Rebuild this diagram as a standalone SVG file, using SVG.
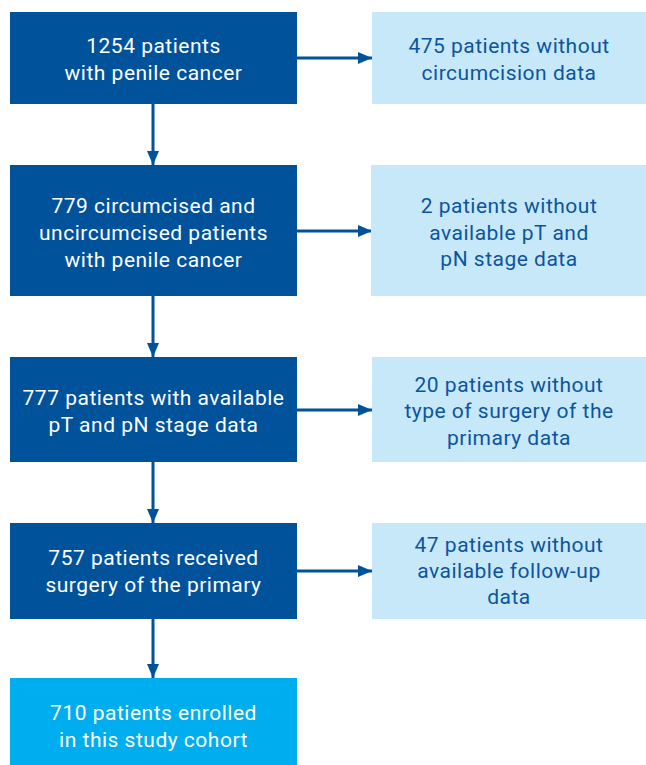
<svg xmlns="http://www.w3.org/2000/svg" width="646" height="765" viewBox="0 0 646 765">
<style>
.dark{fill:#00529B}
.light{fill:#C7E8F8}
.bright{fill:#00AEEF}
text{font-family:Roboto,"Liberation Sans",sans-serif;font-size:21px;text-anchor:middle;letter-spacing:0.5px}
.w{fill:#FFFFFF}
.b{fill:#0B55A0}
.conn{stroke:#00529B;stroke-width:3;fill:none}
</style>
<defs>
<marker id="ah" markerWidth="14" markerHeight="12" refX="14" refY="6" orient="auto" markerUnits="userSpaceOnUse">
<path d="M0,0 L14,6 L0,12 Z" fill="#00529B"/>
</marker>
</defs>
<rect width="646" height="765" fill="#FFFFFF"/>
<g id="connectors">
<line class="conn" x1="153" y1="104" x2="153" y2="165" marker-end="url(#ah)"/>
<line class="conn" x1="153" y1="296" x2="153" y2="357" marker-end="url(#ah)"/>
<line class="conn" x1="153" y1="462" x2="153" y2="523" marker-end="url(#ah)"/>
<line class="conn" x1="153" y1="619" x2="153" y2="678" marker-end="url(#ah)"/>
<line class="conn" x1="297" y1="58" x2="372" y2="58" marker-end="url(#ah)"/>
<line class="conn" x1="297" y1="231" x2="372" y2="231" marker-end="url(#ah)"/>
<line class="conn" x1="297" y1="410" x2="372" y2="410" marker-end="url(#ah)"/>
<line class="conn" x1="297" y1="571" x2="372" y2="571" marker-end="url(#ah)"/>
</g>
<g id="n1">
<rect class="dark" x="10" y="12" width="287" height="92"/>
<text class="w" x="153.5" y="53">1254 patients</text>
<text class="w" x="153.5" y="80">with penile cancer</text>
</g>
<g id="n2">
<rect class="dark" x="10" y="165" width="287" height="131"/>
<text class="w" x="153.5" y="213">779 circumcised and</text>
<text class="w" x="153.5" y="240">uncircumcised patients</text>
<text class="w" x="153.5" y="267">with penile cancer</text>
</g>
<g id="n3">
<rect class="dark" x="10" y="357" width="287" height="105"/>
<text class="w" x="153.5" y="405">777 patients with available</text>
<text class="w" x="153.5" y="432">pT and pN stage data</text>
</g>
<g id="n4">
<rect class="dark" x="10" y="523" width="287" height="96"/>
<text class="w" x="153.5" y="565">757 patients received</text>
<text class="w" x="153.5" y="592">surgery of the primary</text>
</g>
<g id="n5">
<rect class="bright" x="10" y="678" width="287" height="87"/>
<text class="w" x="153.5" y="720">710 patients enrolled</text>
<text class="w" x="153.5" y="747">in this study cohort</text>
</g>
<g id="r1">
<rect class="light" x="372" y="12" width="274" height="92"/>
<text class="b" x="509" y="53">475 patients without</text>
<text class="b" x="509" y="80">circumcision data</text>
</g>
<g id="r2">
<rect class="light" x="371" y="165" width="275" height="131"/>
<text class="b" x="509" y="213">2 patients without</text>
<text class="b" x="509" y="240">available pT and</text>
<text class="b" x="509" y="266">pN stage data</text>
</g>
<g id="r3">
<rect class="light" x="372" y="357" width="274" height="105"/>
<text class="b" x="509" y="392">20 patients without</text>
<text class="b" x="509" y="418">type of surgery of the</text>
<text class="b" x="509" y="445">primary data</text>
</g>
<g id="r4">
<rect class="light" x="372" y="523" width="274" height="96"/>
<text class="b" x="509" y="552">47 patients without</text>
<text class="b" x="509" y="578">available follow-up</text>
<text class="b" x="509" y="604">data</text>
</g>
</svg>
